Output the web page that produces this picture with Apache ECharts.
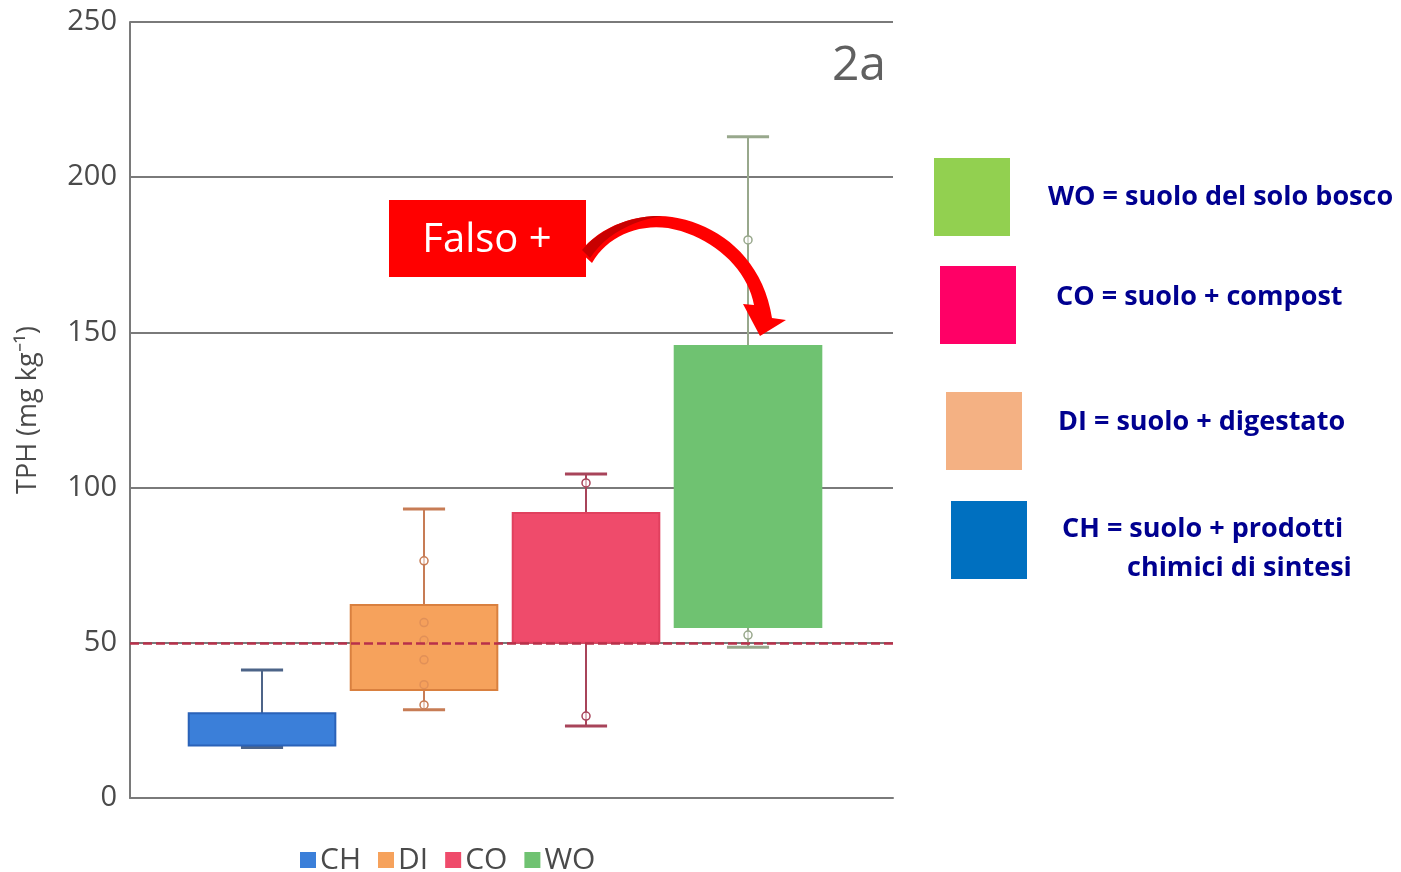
<!DOCTYPE html>
<html>
<head>
<meta charset="utf-8">
<script src="https://cdn.jsdelivr.net/npm/echarts@6/dist/echarts.min.js"></script>
<style>
  html, body { margin: 0; padding: 0; background: #ffffff; }
  #chart { width: 1401px; height: 872px; }
</style>
</head>
<body>
<div id="chart"></div>
<script>
// Treatment groups (x positions are their indices)
const categories = ['CH', 'DI', 'CO', 'WO'];

// TPH distribution per group (mg/kg)
const whiskerLow  = [16.3, 28.4, 23.2, 48.6];
const boxLow      = [16.9, 34.8, 50.0, 55.1];
const boxHigh     = [27.3, 62.2, 91.8, 145.6];
const whiskerHigh = [41.2, 93.1, 104.4, 213.0];

// Individual sample points drawn on the whiskers / inside boxes
const pointGroup  = [1, 1, 1, 1, 1, 1, 2, 2, 3, 3];
const pointValue  = [76.4, 56.5, 50.8, 44.5, 36.5, 30.0, 101.5, 26.4, 179.8, 52.5];

// Threshold (dashed line)
const threshold = 50;

// Y axis ticks
const yMin = 0, yMax = 250, yStep = 50;

// Colours per group
const fillColors    = ['#3b7fd9', '#f6a25c', '#ef4b6b', '#6fc271'];
const borderColors  = ['#2a62b8', '#d9803f', '#e0405e', '#6fc271'];
const whiskerColors = ['#4d6488', '#c77c55', '#a8445a', '#98a88c'];

// Key on the right
const keyLabels = [
  ['WO = suolo del solo bosco'],
  ['CO = suolo + compost'],
  ['DI = suolo + digestato'],
  ['CH = suolo + prodotti', 'chimici di sintesi']
];
const keyColors = ['#92d050', '#ff0066', '#f4b183', '#0070c0'];

const chart = echarts.init(document.getElementById('chart'), null, { renderer: 'canvas' });

function renderBox(params, api) {
  const i = api.value(0);
  const lo = api.coord([i, api.value(1)]);
  const q1 = api.coord([i, api.value(2)]);
  const q3 = api.coord([i, api.value(3)]);
  const hi = api.coord([i, api.value(4)]);
  const band = api.size([1, 0])[0];
  const boxW = band * 0.905;
  const capW = band * 0.26;
  const x = lo[0];
  const g = params.seriesIndex;
  const wc = whiskerColors[g];
  const wStyle = { stroke: wc, lineWidth: 2 };
  const cStyle = { stroke: wc, lineWidth: 3 };
  return {
    type: 'group',
    children: [
      { type: 'line', shape: { x1: x, y1: q3[1], x2: x, y2: hi[1] }, style: wStyle },
      { type: 'line', shape: { x1: x, y1: q1[1], x2: x, y2: lo[1] }, style: wStyle },
      { type: 'line', shape: { x1: x - capW / 2, y1: hi[1], x2: x + capW / 2, y2: hi[1] }, style: cStyle },
      { type: 'line', shape: { x1: x - capW / 2, y1: lo[1], x2: x + capW / 2, y2: lo[1] }, style: cStyle },
      {
        type: 'rect',
        shape: { x: x - boxW / 2, y: q3[1], width: boxW, height: q1[1] - q3[1] },
        style: { fill: fillColors[g], stroke: borderColors[g], lineWidth: 2 }
      }
    ]
  };
}

const boxSeries = categories.map((name, i) => ({
  name: name,
  type: 'custom',
  renderItem: renderBox,
  itemStyle: { color: fillColors[i] },
  encode: { x: 0, y: [1, 2, 3, 4] },
  data: [[i, whiskerLow[i], boxLow[i], boxHigh[i], whiskerHigh[i]]],
  z: 2,
  silent: true
}));

const pointSeries = {
  name: 'campioni',
  type: 'scatter',
  symbol: 'circle',
  symbolSize: 8,
  z: 4,
  silent: true,
  data: pointValue.map((v, k) => {
    const g = pointGroup[k];
    const inside = v > boxLow[g] && v < boxHigh[g];
    return {
      value: [g, v],
      itemStyle: {
        color: inside ? 'rgba(240,150,90,0.35)' : 'rgba(255,255,255,0.6)',
        borderColor: whiskerColors[g],
        borderWidth: 1.5,
        opacity: inside ? 0.45 : 1
      }
    };
  })
};

const thresholdSeries = {
  name: 'soglia',
  type: 'line',
  data: [],
  z: 6,
  silent: true,
  markLine: {
    silent: true,
    symbol: 'none',
    label: { show: false },
    lineStyle: { color: '#b8304a', width: 2.5, type: [9, 4] },
    data: [{ yAxis: threshold }]
  }
};

// Sample a cubic bezier into points
function cubic(p0, p1, p2, p3, n) {
  const pts = [];
  for (let k = 1; k <= n; k++) {
    const t = k / n, u = 1 - t;
    pts.push([
      u * u * u * p0[0] + 3 * u * u * t * p1[0] + 3 * u * t * t * p2[0] + t * t * t * p3[0],
      u * u * u * p0[1] + 3 * u * u * t * p1[1] + 3 * u * t * t * p2[1] + t * t * t * p3[1]
    ]);
  }
  return pts;
}

// Curved arrow outline
const arrowPts = [[580, 252]]
  .concat(cubic([580, 252], [600, 226], [638, 212], [672, 217], 16))
  .concat(cubic([672, 217], [717, 224], [762, 256], [772, 318], 20))
  .concat([[786, 320], [760, 336], [743, 304], [754, 305]])
  .concat(cubic([754, 305], [747, 268], [712, 236], [668, 228], 20))
  .concat(cubic([668, 228], [636, 224], [607, 237], [592, 263], 16));
const arrowShadePts = [[582, 250]]
  .concat(cubic([582, 250], [600, 229], [630, 215], [662, 216], 12))
  .concat(cubic([662, 216], [632, 221], [606, 234], [590, 258], 12));

// Key squares and labels on the right
const keySquares = [[934, 158], [940, 266], [946, 392], [951, 501]];
const keyText = [[1048, 197], [1056, 297], [1058, 422], [1062, 529]];
const graphics = [];
keyColors.forEach((c, i) => {
  graphics.push({
    type: 'rect',
    shape: { x: keySquares[i][0], y: keySquares[i][1], width: 76, height: 78 },
    style: { fill: c }
  });
});
keyLabels.forEach((lines, i) => {
  graphics.push({
    type: 'text', x: keyText[i][0], y: keyText[i][1],
    style: {
      text: lines[0], fill: '#000090',
      font: 'bold 27px "Open Sans", sans-serif',
      textVerticalAlign: 'middle'
    }
  });
  if (lines[1]) {
    graphics.push({
      type: 'text', x: 1127, y: 568,
      style: {
        text: lines[1], fill: '#000090',
        font: 'bold 27px "Open Sans", sans-serif',
        textVerticalAlign: 'middle'
      }
    });
  }
});

// Panel tag
graphics.push({
  type: 'text', x: 886, y: 66,
  style: {
    text: '2a', fill: '#606060',
    font: '48px "Open Sans", sans-serif',
    textAlign: 'right', textVerticalAlign: 'middle'
  }
});

// "Falso +" callout with curved arrow
graphics.push({
  type: 'rect',
  shape: { x: 389, y: 200, width: 197, height: 77 },
  style: { fill: '#ff0000' },
  z: 20
});
graphics.push({
  type: 'text', x: 487, y: 241,
  style: {
    text: 'Falso +', fill: '#ffffff',
    font: '40px "Open Sans", sans-serif',
    textAlign: 'center', textVerticalAlign: 'middle'
  },
  z: 21
});
graphics.push({
  type: 'polygon',
  shape: { points: arrowPts },
  style: { fill: '#ff0000' },
  z: 20
});
graphics.push({
  type: 'polygon',
  shape: { points: arrowShadePts },
  style: { fill: '#c80000' },
  z: 21
});

const gridColor = '#7a7a7a';
const textColor = '#4a4a4a';

chart.setOption({
  animation: false,
  backgroundColor: '#ffffff',
  grid: { left: 130, right: 508, top: 22, bottom: 74 },
  xAxis: {
    type: 'value',
    min: -0.815,
    max: 3.895,
    axisLine: { show: true, onZero: false, lineStyle: { color: gridColor, width: 2 } },
    axisTick: { show: false },
    axisLabel: { show: false },
    splitLine: { show: false }
  },
  yAxis: {
    type: 'value',
    min: yMin,
    max: yMax,
    interval: yStep,
    name: 'TPH (mg kg⁻¹)',
    nameLocation: 'middle',
    nameGap: 88,
    nameTextStyle: { color: textColor, fontSize: 27, fontFamily: '"Open Sans", sans-serif' },
    axisLine: { show: true, onZero: false, lineStyle: { color: gridColor, width: 2 } },
    axisTick: { show: false },
    axisLabel: { color: textColor, fontSize: 29, fontFamily: '"Open Sans", sans-serif', margin: 13 },
    splitLine: { show: true, lineStyle: { color: gridColor, width: 2 } }
  },
  legend: {
    data: categories.map((n, i) => ({ name: n, itemStyle: { color: fillColors[i] } })),
    left: 300,
    top: 845,
    padding: 0,
    icon: 'rect',
    itemWidth: 16,
    itemHeight: 16,
    itemGap: 17,
    textStyle: { color: textColor, fontSize: 30, lineHeight: 30, fontFamily: '"Open Sans", sans-serif', padding: [0, 0, 0, -1] },
    selectedMode: false
  },
  series: [...boxSeries, pointSeries, thresholdSeries],
  graphic: graphics
});
</script>
</body>
</html>
